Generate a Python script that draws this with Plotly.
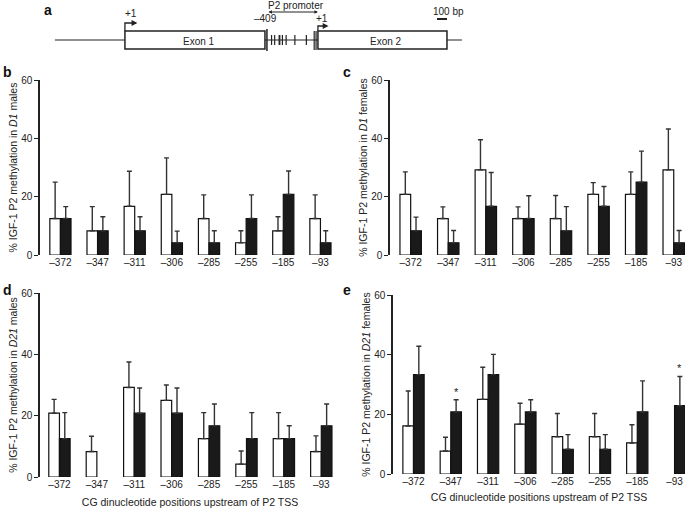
import plotly.graph_objects as go

W, H = 685, 508

# ---------------- data ----------------
positions = ["–372", "–347", "–311", "–306", "–285", "–255", "–185", "–93"]
cpg_sites_bp = [-372, -347, -311, -306, -285, -255, -185, -93]

# panel b: D1 males
b_white = [12.5, 8.3, 16.7, 20.8, 12.5, 4.2, 8.3, 12.5]
b_white_err = [12.5, 8.3, 12.0, 12.5, 8.1, 4.1, 4.8, 8.1]
b_black = [12.5, 8.3, 8.3, 4.2, 4.2, 12.5, 20.8, 4.2]
b_black_err = [4.1, 4.8, 4.8, 4.0, 4.1, 8.1, 8.0, 4.1]

# panel c: D1 females
c_white = [20.8, 12.5, 29.2, 12.5, 12.5, 20.8, 20.8, 29.2]
c_white_err = [7.7, 4.0, 10.3, 4.0, 7.9, 4.0, 7.7, 14.0]
c_black = [8.3, 4.2, 16.7, 12.5, 8.3, 16.7, 25.0, 4.2]
c_black_err = [4.7, 4.2, 11.6, 7.8, 8.3, 6.8, 10.6, 4.2]

# panel d: D21 males
d_white = [20.8, 8.3, 29.2, 25.0, 12.5, 4.2, 12.5, 8.3]
d_white_err = [4.5, 5.0, 8.3, 5.0, 8.5, 4.3, 8.5, 5.1]
d_black = [12.5, None, 20.8, 20.8, 16.7, 12.5, 12.5, 16.7]
d_black_err = [8.5, None, 8.2, 8.2, 7.1, 8.5, 4.2, 7.1]

# panel e: D21 females
e_white = [16.1, 7.7, 25.0, 16.7, 12.5, 12.5, 10.4, None]
e_white_err = [11.7, 4.6, 10.8, 7.0, 7.8, 7.8, 6.1, None]
e_black = [33.3, 20.8, 33.3, 20.8, 8.3, 8.3, 20.8, 22.9]
e_black_err = [9.5, 4.1, 6.8, 4.1, 4.9, 4.9, 10.4, 9.8]
e_signif = ["–347", "–93"]

y_ticks = [0, 20, 40, 60]

# gene structure (bp relative to P2 TSS)
backbone_bp = (-2110, 1155)
exon1_bp = (-1548, -425)
exon2_bp = (0, 1035)
p2_start_bp = -409
break_marks_bp = [-30, -15]
scale_bar_bp = (955, 1035)

# ---------------- helpers ----------------
FONT = "Liberation Sans Narrow, Arial Narrow, Liberation Sans, Arial, sans-serif"
TXT = "#222222"


def px_x(p):
    return p / W


def px_y(p):
    return 1 - p / H


fig = go.Figure()

panels = [
    ("x", "y", b_white, b_white_err, b_black, b_black_err),
    ("x2", "y2", c_white, c_white_err, c_black, c_black_err),
    ("x3", "y3", d_white, d_white_err, d_black, d_black_err),
    ("x4", "y4", e_white, e_white_err, e_black, e_black_err),
]

for xa, ya, wv, we, bv, be in panels:
    for vals, errs, fill in ((wv, we, "white"), (bv, be, "#1a1a1a")):
        fig.add_trace(go.Bar(
            x=positions, y=vals, xaxis=xa, yaxis=ya,
            marker=dict(color=fill, line=dict(color="#111111", width=1.2)),
            error_y=dict(type="data", symmetric=False, array=errs,
                         arrayminus=[0] * len(errs), color="#333333",
                         thickness=1.4, width=2.5),
            showlegend=False, hoverinfo="skip",
        ))

layout = dict(
    width=W, height=H,
    margin=dict(l=0, r=0, t=0, b=0),
    paper_bgcolor="white", plot_bgcolor="white",
    barmode="group", bargap=0.43, bargroupgap=0.0,
    font=dict(family=FONT, size=10, color=TXT),
    showlegend=False,
)

panel_geo = {
    # name: (x0px, x1px, xrange, y_zero_px, y_top_px, ylabel, xtitle_standoff)
    "": (40, 339, [-0.55, 7.5], 255, 80, "% IGF-1 P2 methylation in <i>D1</i> males", None),
    "2": (390, 685, [-0.55, 7.3], 255, 80, "% IGF-1 P2 methylation in <i>D1</i> females", None),
    "3": (40, 340, [-0.52, 7.5], 477, 293, "% IGF-1 P2 methylation in <i>D21</i> males", 10),
    "4": (393, 685, [-0.55, 7.28], 474, 295, "% IGF-1 P2 methylation in <i>D21</i> females", 7),
}

for k, (x0, x1, xr, y0, y1, ylab, xst) in panel_geo.items():
    xaxis = dict(
        domain=[px_x(x0), px_x(x1)], anchor="y" + k, type="category",
        range=xr, showline=False, showgrid=False, zeroline=False, automargin=False,
        ticks="", tickfont=dict(size=10, color=TXT, family=FONT),
    )
    if xst is not None:
        xaxis["title"] = dict(text="CG dinucleotide positions upstream of P2 TSS",
                              font=dict(size=10.5, color=TXT, family=FONT),
                              standoff=xst)
    yaxis = dict(
        domain=[px_y(y0), px_y(y1)], anchor="x" + k, range=[0, 60], automargin=False,
        tickvals=y_ticks, showline=True, linecolor="#222222", linewidth=1.5,
        ticks="outside", ticklen=4, tickwidth=1.2, tickcolor="#222222",
        showgrid=False, zeroline=False,
        tickfont=dict(size=10, color=TXT, family=FONT),
        title=dict(text=ylab, font=dict(size=10.5, color=TXT, family=FONT), standoff=1),
    )
    layout["xaxis" + k] = xaxis
    layout["yaxis" + k] = yaxis

# schematic axis (x in bp, y in px-like rows)
layout["xaxis5"] = dict(domain=[0, 1], range=[-2550, 2944], anchor="y5",
                        visible=False, fixedrange=True, automargin=False)
layout["yaxis5"] = dict(domain=[px_y(60), 1], range=[60, 0], anchor="x5",
                        visible=False, fixedrange=True, automargin=False)

fig.update_layout(**layout)

shapes = []
S = dict(xref="x5", yref="y5")
shapes.append(dict(type="line", x0=backbone_bp[0], x1=backbone_bp[1], y0=40, y1=40,
                   line=dict(color="#222", width=1), **S))
for ex in (exon1_bp, exon2_bp):
    shapes.append(dict(type="rect", x0=ex[0], x1=ex[1], y0=31, y1=49,
                       fillcolor="white", line=dict(color="#222", width=1.5), **S))
shapes.append(dict(type="line", x0=p2_start_bp, x1=p2_start_bp, y0=29, y1=51,
                   line=dict(color="#222", width=1.5), **S))
for bm in break_marks_bp:
    shapes.append(dict(type="line", x0=bm, x1=bm, y0=31, y1=50,
                       line=dict(color="#222", width=1.2), **S))
for site in cpg_sites_bp:
    shapes.append(dict(type="line", x0=site, x1=site, y0=35, y1=45,
                       line=dict(color="#222", width=1.2), **S))
# bent TSS arrows
shapes.append(dict(type="path", path=f"M {exon1_bp[0]},31 L {exon1_bp[0]},23 L {exon1_bp[0] + 80},23",
                   line=dict(color="#222", width=1.3), **S))
shapes.append(dict(type="path", path=f"M {exon2_bp[0]},31 L {exon2_bp[0]},26 L {exon2_bp[0] + 60},26",
                   line=dict(color="#222", width=1.3), **S))
# scale bar
shapes.append(dict(type="line", x0=scale_bar_bp[0], x1=scale_bar_bp[1], y0=19, y1=19,
                   line=dict(color="#222", width=2), **S))
fig.update_layout(shapes=shapes)

ann = []
A = dict(xref="x5", yref="y5", showarrow=False, font=dict(size=10, color=TXT, family=FONT))
ann.append(dict(x=exon1_bp[0] + 100, y=23, ax=exon1_bp[0] + 60, ay=23, axref="x5", ayref="y5",
                xref="x5", yref="y5", showarrow=True, arrowhead=2, arrowsize=0.9,
                arrowwidth=1.3, arrowcolor="#222", text=""))
ann.append(dict(x=exon2_bp[0] + 85, y=26, ax=exon2_bp[0] + 45, ay=26, axref="x5", ayref="y5",
                xref="x5", yref="y5", showarrow=True, arrowhead=2, arrowsize=0.9,
                arrowwidth=1.3, arrowcolor="#222", text=""))
ann.append(dict(x=0, y=12, ax=p2_start_bp, ay=12, axref="x5", ayref="y5",
                xref="x5", yref="y5", showarrow=True, arrowhead=2, startarrowhead=2,
                arrowside="end+start", arrowsize=0.7, arrowwidth=1, arrowcolor="#222", text=""))
ann.append(dict(x=-1500, y=13, text="+1", **A))
ann.append(dict(x=-420, y=18, text="–409", **A))
ann.append(dict(x=32, y=18, text="+1", **A))
ann.append(dict(x=-180, y=5, text="P2 promoter", **A))
ann.append(dict(x=sum(exon1_bp) / 2 + 30, y=41, text="Exon 1", **A))
ann.append(dict(x=sum(exon2_bp) / 2 + 30, y=41, text="Exon 2", **A))
ann.append(dict(x=1050, y=11, text="100 bp", **A))

# panel letters
for letter, xp, yp in (("a", 48, 10), ("b", 8, 72), ("c", 347, 72), ("d", 8, 290), ("e", 347, 290)):
    ann.append(dict(xref="paper", yref="paper", x=px_x(xp), y=px_y(yp), text=f"<b>{letter}</b>",
                    showarrow=False, font=dict(size=14, color="#111", family="Liberation Sans, Arial"),
                    xanchor="center", yanchor="middle"))

# significance asterisks (panel e, black bars)
for cat in e_signif:
    i = positions.index(cat)
    ann.append(dict(xref="x4", yref="y4", x=cat, y=e_black[i] + e_black_err[i], text="*",
                    showarrow=False, xshift=5.3, yanchor="bottom", yshift=0,
                    font=dict(size=11, color=TXT, family=FONT)))

fig.update_layout(annotations=ann)

fig.write_html(
    "out.html",
    config={"displayModeBar": False},
    post_script="document.body.style.margin='0px';document.body.style.overflow='hidden';",
)
